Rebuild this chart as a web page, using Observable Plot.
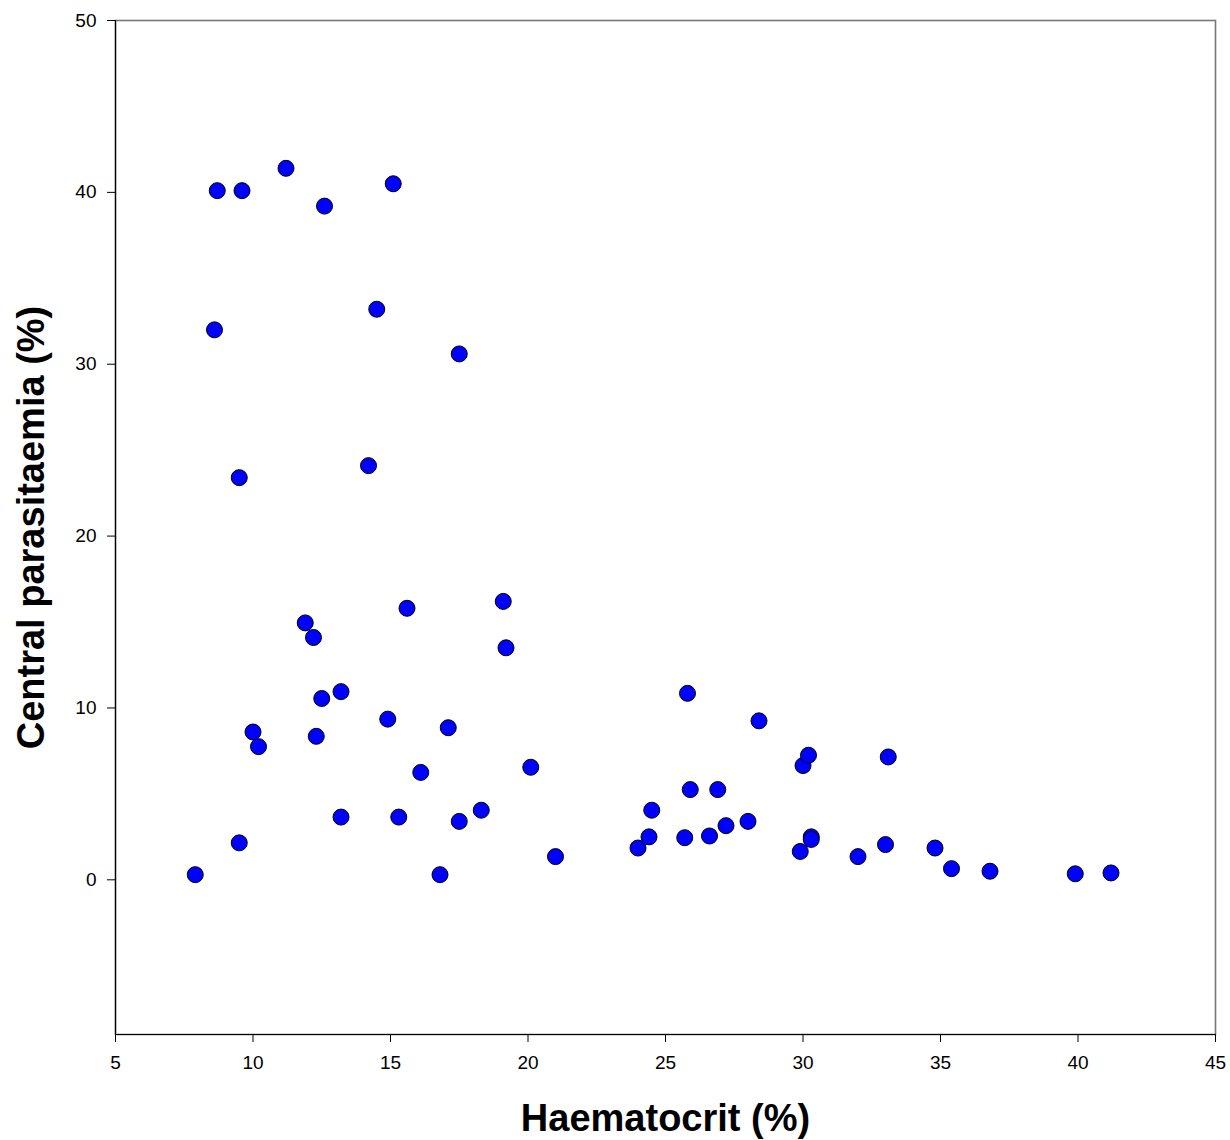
<!DOCTYPE html>
<html>
<head>
<meta charset="utf-8">
<script src="https://cdn.jsdelivr.net/npm/d3@7"></script>
<script src="https://cdn.jsdelivr.net/npm/@observablehq/plot@0.6"></script>
<style>
  html, body { margin: 0; padding: 0; background: #fff; }
  #chart svg { display: block; }
</style>
</head>
<body>
<div id="chart"></div>
<script>
const haematocrit = [
  7.9, 8.7, 9.6, 8.6, 11.2, 12.6, 15.1, 14.5, 17.5, 9.5,
  14.2, 11.9, 12.2, 15.6, 19.1, 19.2, 12.5, 13.2, 10.0, 10.2,
  12.3, 14.9, 17.1, 16.1, 20.1, 13.2, 15.3, 17.5, 18.3, 9.5,
  16.8, 21.0, 24.0, 24.4, 24.5, 25.7, 26.6, 25.8, 25.9, 26.9,
  27.2, 28.0, 28.4, 29.9, 30.0, 30.2, 30.3, 30.3, 32.0, 33.0,
  33.1, 34.8, 35.4, 36.8, 39.9, 41.2
];
const parasitaemia = [
  0.3, 40.1, 40.1, 32.0, 41.4, 39.2, 40.5, 33.2, 30.6, 23.4,
  24.1, 14.95, 14.1, 15.8, 16.2, 13.5, 10.55, 10.95, 8.6, 7.75,
  8.35, 9.35, 8.85, 6.25, 6.55, 3.65, 3.65, 3.4, 4.05, 2.15,
  0.3, 1.35, 1.85, 2.5, 4.05, 2.45, 2.55, 10.85, 5.25, 5.25,
  3.15, 3.4, 9.25, 1.65, 6.65, 7.25, 2.5, 2.35, 1.35, 2.05,
  7.15, 1.85, 0.65, 0.5, 0.35, 0.4
];
const xTicks = [5, 10, 15, 20, 25, 30, 35, 40, 45];
const yTicks = [0, 10, 20, 30, 40, 50];
const xTitle = "Haematocrit (%)";
const yTitle = "Central parasitaemia (%)";

const data = haematocrit.map((h, i) => ({h, p: parasitaemia[i]}));

const chart = Plot.plot({
  width: 1230,
  height: 1140,
  marginLeft: 115,
  marginRight: 15,
  marginTop: 20,
  marginBottom: 106,
  style: {fontFamily: "'Liberation Sans', Arial, sans-serif", background: "#fff", color: "#000"},
  x: {domain: [5, 45]},
  y: {domain: [-9, 50]},
  marks: [
    Plot.frame({stroke: "#777", strokeWidth: 1.6}),
    Plot.ruleX([5], {stroke: "#000", strokeWidth: 1.2}),
    Plot.ruleY([-9], {stroke: "#000", strokeWidth: 1.2}),
    Plot.axisX({ticks: xTicks, tickSize: 8, tickPadding: 13, fontSize: 19, label: null, stroke: "#000"}),
    Plot.axisY({ticks: yTicks, tickSize: 8, tickPadding: 11, fontSize: 19, label: null, stroke: "#000"}),
    Plot.dot(data, {x: "h", y: "p", r: 8, fill: "#0000ff", stroke: "#000", strokeWidth: 1}),
    Plot.text([xTitle], {frameAnchor: "bottom", textAnchor: "middle", dy: 84, fontSize: 38, fontWeight: "bold", fill: "#000", lineAnchor: "middle"}),
    Plot.text([yTitle], {frameAnchor: "left", textAnchor: "middle", dx: -84, rotate: -90, fontSize: 38, fontWeight: "bold", fill: "#000", lineAnchor: "middle"})
  ]
});
document.getElementById("chart").appendChild(chart);
</script>
</body>
</html>
